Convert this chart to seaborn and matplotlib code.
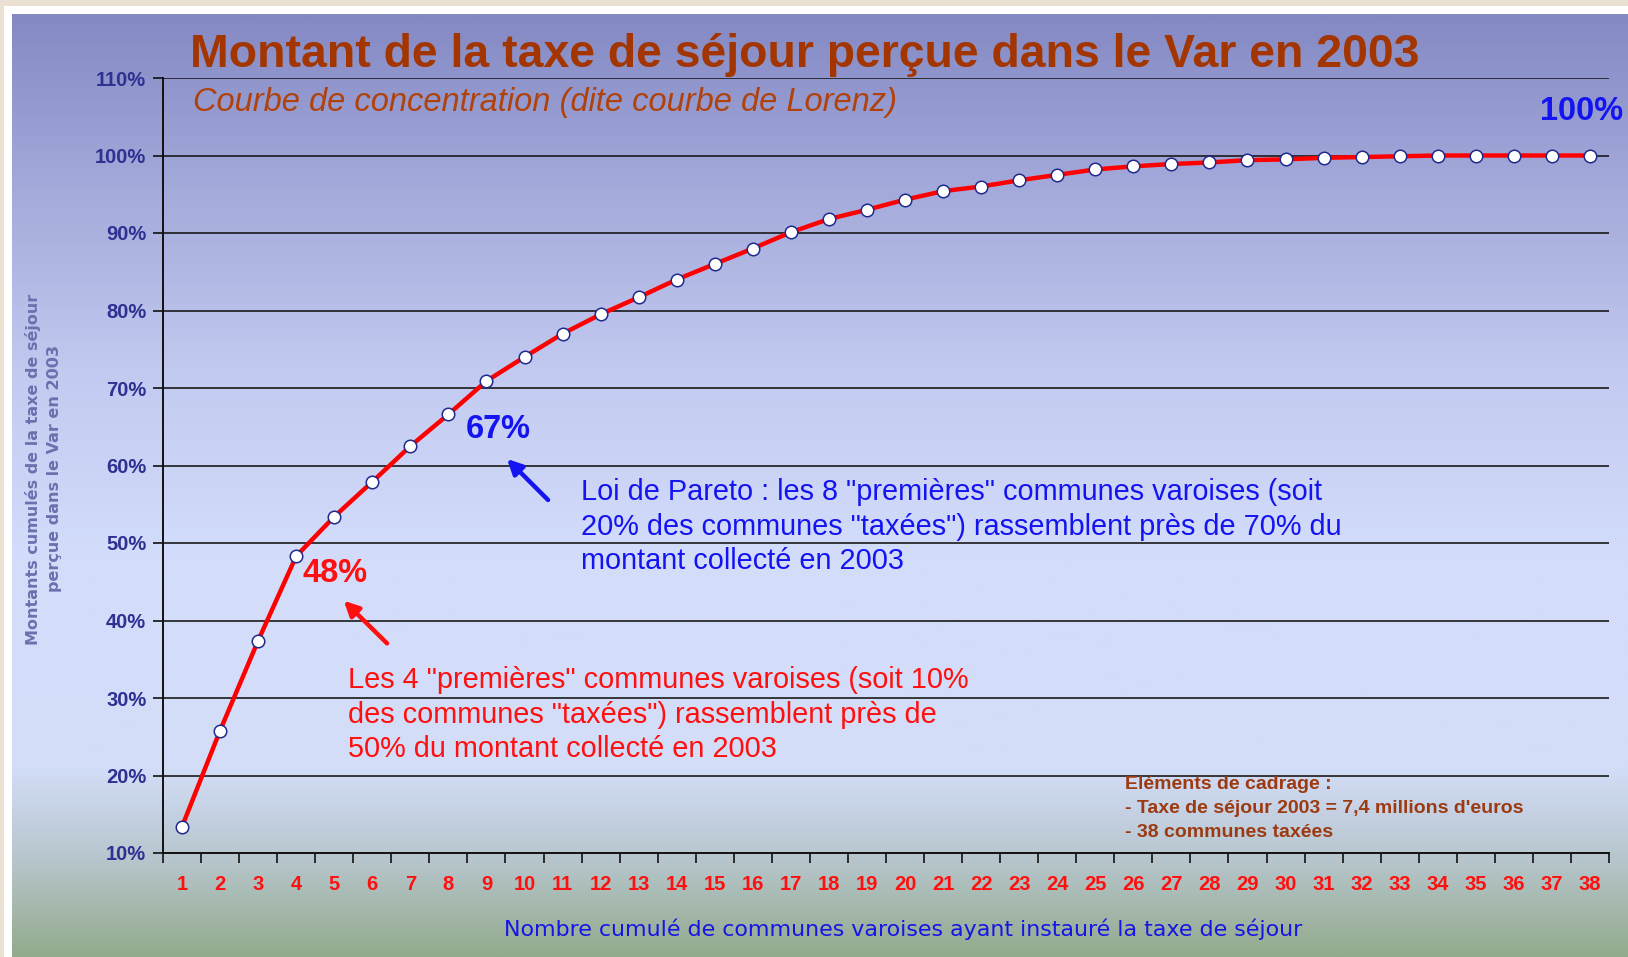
import numpy as np
import pandas as pd
import seaborn as sns
import matplotlib.pyplot as plt
from matplotlib.colors import LinearSegmentedColormap

# Montant cumulé (%) de la taxe de séjour, communes classées par montant décroissant
communes = list(range(1, 39))
cumul_pct = [13.4, 25.8, 37.4, 48.3, 53.4, 57.9, 62.5, 66.6, 70.9, 74.0,
             77.0, 79.5, 81.7, 84.0, 86.0, 88.0, 90.1, 91.8, 93.0, 94.3,
             95.4, 96.0, 96.8, 97.5, 98.2, 98.6, 98.9, 99.1, 99.4, 99.5,
             99.7, 99.8, 99.9, 100.0, 100.0, 100.0, 100.0, 100.0]
y_ticks = [10, 20, 30, 40, 50, 60, 70, 80, 90, 100, 110]

df = pd.DataFrame({"communes": communes, "cumul": cumul_pct})

sns.set_style("white")
plt.rcParams['font.family'] = ['Liberation Sans', 'DejaVu Sans']

W, H = 1628, 957
fig = plt.figure(figsize=(W / 100, H / 100), dpi=100, facecolor="#ebe1d3")

# cadre blanc + fond dégradé
frame = fig.add_axes([4 / W, 0, 1 - 4 / W, (H - 6) / H])
frame.set_axis_off()
frame.add_patch(plt.Rectangle((0, 0), 1, 1, transform=frame.transAxes, color="white"))

bg = fig.add_axes([12 / W, 0, 1 - 12 / W, (H - 14) / H])
stops = [(0.0, "#93aa8c"), (0.10, "#b6c5cc"), (0.20, "#d3ddf8"), (0.42, "#d3ddfb"),
         (0.62, "#c3caf0"), (0.85, "#9ea4d6"), (1.0, "#8489c4")]
cmap = LinearSegmentedColormap.from_list("fond", stops)
grad = np.linspace(0, 1, 512).reshape(-1, 1)
bg.imshow(grad, aspect="auto", cmap=cmap, origin="lower", extent=[0, 1, 0, 1])
bg.set_axis_off()

ax = fig.add_axes([163 / W, 104 / H, (1609 - 163) / W, (853 - 78) / H])
ax.patch.set_alpha(0)

for v in y_ticks[1:]:
    ax.axhline(v, color="#1a1a1a", lw=1.2, zorder=1)

sns.lineplot(data=df, x="communes", y="cumul", ax=ax, color="#ff0000", lw=3.2,
             marker="o", markersize=9, markerfacecolor="white",
             markeredgecolor="#1f2a8c", markeredgewidth=1.1, zorder=3)

ax.set_xlim(0.5, 38.5)
ax.set_ylim(10, 110)
for s in ["top", "right"]:
    ax.spines[s].set_visible(False)
for s in ["left", "bottom"]:
    ax.spines[s].set_color("#111111")
    ax.spines[s].set_linewidth(1.4)

ax.set_yticks(y_ticks)
ax.set_yticklabels([f"{v}%" for v in y_ticks], fontsize=14.5, fontweight="bold",
                   color="#2e3192")
ax.tick_params(axis="y", length=7, width=1.2, color="#111111", pad=5, left=True)

ax.set_xticks(np.arange(0.5, 39, 1))
ax.set_xticklabels([])
ax.set_xticks(communes, minor=True)
ax.set_xticklabels([str(c) for c in communes], minor=True, fontsize=14.5,
                   fontweight="bold", color="#ff1010")
ax.tick_params(axis="x", which="major", length=7, width=1.2, color="#111111", bottom=True)
ax.tick_params(axis="x", which="minor", length=0, pad=16)
ax.set_xlabel("")
ax.set_ylabel("")

# titres
fig.text(190 / W, 1 - 55 / H, "Montant de la taxe de séjour perçue dans le Var en 2003",
         fontsize=33.4, fontweight="bold", color="#a33600", va="center", ha="left")
fig.text(193 / W, 1 - 102 / H, "Courbe de concentration (dite courbe de Lorenz)",
         fontsize=23.5, style="italic", color="#b0420e", va="center", ha="left")

fig.text(44 / W, 1 - 469 / H, "Montants cumulés de la taxe de séjour\nperçue dans le Var en 2003",
         rotation=90, fontsize=11.5, fontweight="bold", color="#6b70ae",
         ha="center", va="center", linespacing=1.5, family="DejaVu Sans")
fig.text(903 / W, 1 - 929 / H,
         "Nombre cumulé de communes varoises ayant instauré la taxe de séjour",
         fontsize=15.9, color="#1515e6", ha="center", va="center", family="DejaVu Sans")

# annotations
ax.text(37.79, 105.7, "100%", fontsize=23.5, fontweight="bold", color="#1414f0",
        ha="center", va="center")
ax.text(9.30, 64.6, "67%", fontsize=23.5, fontweight="bold", color="#1414f0",
        ha="center", va="center")
ax.text(5.02, 46.0, "48%", fontsize=23.5, fontweight="bold", color="#ff1010",
        ha="center", va="center")

ax.annotate("", xy=(9.49, 61.1), xytext=(10.67, 55.3),
            arrowprops=dict(arrowstyle="-|>", color="#1414f0", lw=3.2,
                            mutation_scale=22))
ax.annotate("", xy=(5.20, 42.8), xytext=(6.44, 36.8),
            arrowprops=dict(arrowstyle="-|>", color="#ff1010", lw=3.2,
                            mutation_scale=22))

fig.text(581 / W, 1 - 478.5 / H,
         "Loi de Pareto : les 8 \"premières\" communes varoises (soit\n"
         "20% des communes \"taxées\") rassemblent près de 70% du\n"
         "montant collecté en 2003",
         fontsize=20.8, color="#1414f0", ha="left", va="top", linespacing=1.28)
fig.text(348 / W, 1 - 666.5 / H,
         "Les 4 \"premières\" communes varoises (soit 10%\n"
         "des communes \"taxées\") rassemblent près de\n"
         "50% du montant collecté en 2003",
         fontsize=20.8, color="#ff1010", ha="left", va="top", linespacing=1.28)

fig.text(1125 / W, 1 - 776 / H,
         "Eléments de cadrage :\n- Taxe de séjour 2003 = 7,4 millions d'euros\n- 38 communes taxées",
         fontsize=14, fontweight="bold", color="#9c3a12", ha="left", va="top",
         linespacing=1.52)

fig.savefig("out.png", dpi=100, facecolor=fig.get_facecolor())
